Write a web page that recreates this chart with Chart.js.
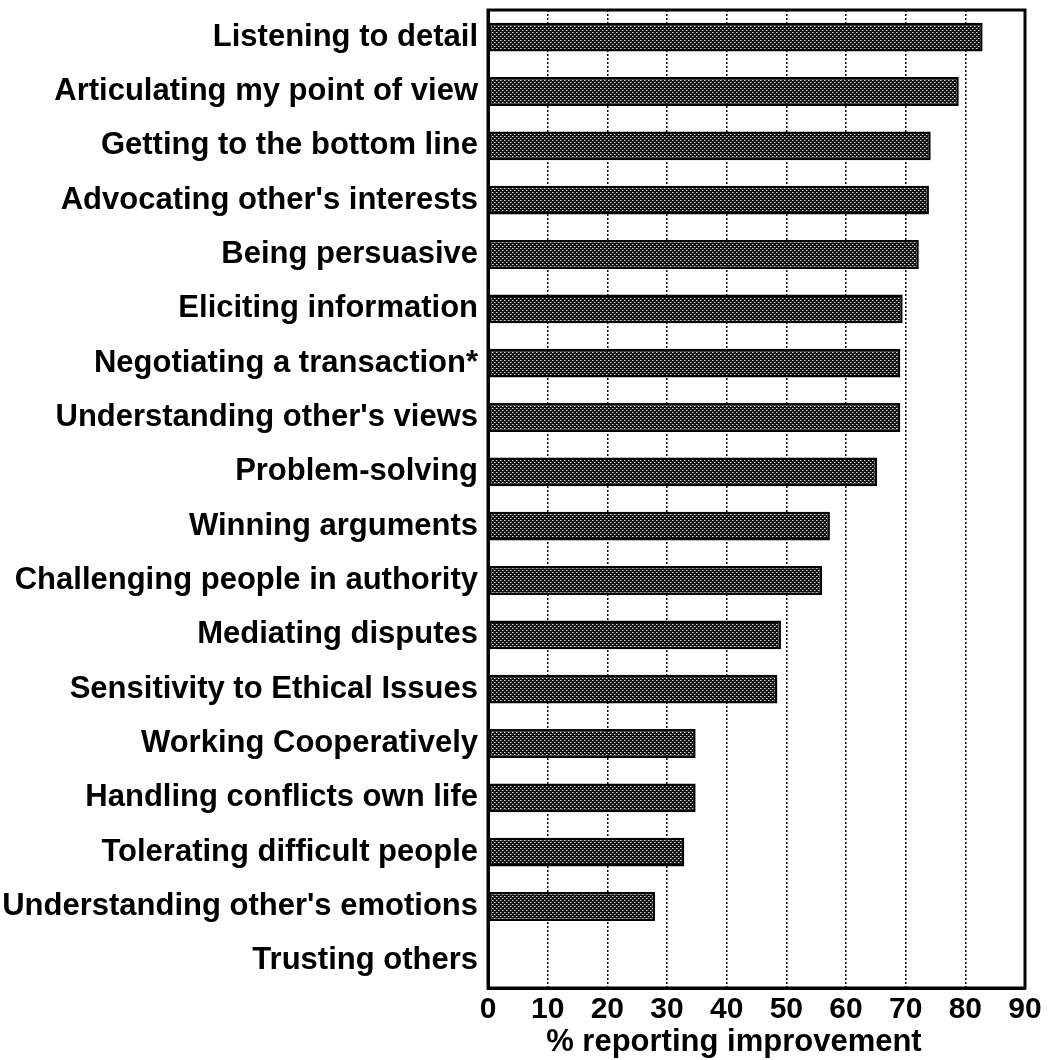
<!DOCTYPE html>
<html>
<head>
<meta charset="utf-8">
<script src="https://cdn.jsdelivr.net/npm/chart.js@4/dist/chart.umd.min.js"></script>
<style>
  html, body { margin: 0; padding: 0; background: #fff; }
  #wrap { width: 1057px; height: 1060px; position: relative; }
</style>
</head>
<body>
<div id="wrap"><canvas id="skillsChart"></canvas></div>
<script>
(function () {
  'use strict';

  // Skill categories (top to bottom)
  var SKILLS = [
    'Listening to detail',
    'Articulating my point of view',
    'Getting to the bottom line',
    "Advocating other's interests",
    'Being persuasive',
    'Eliciting information',
    'Negotiating a transaction*',
    "Understanding other's views",
    'Problem-solving',
    'Winning arguments',
    'Challenging people in authority',
    'Mediating disputes',
    'Sensitivity to Ethical Issues',
    'Working Cooperatively',
    'Handling conflicts own life',
    'Tolerating difficult people',
    "Understanding other's emotions",
    'Trusting others'
  ];

  // % reporting improvement
  var IMPROVEMENT = [
    82.9, 78.9, 74.2, 73.9, 72.2, 69.5, 69.1, 69.1, 65.2,
    57.3, 56.0, 49.1, 48.5, 34.8, 34.8, 32.9, 28.0, 0
  ];

  var X_MIN = 0;
  var X_MAX = 90;
  var X_STEP = 10;
  var X_TITLE = '% reporting improvement';

  var FONT = "'Liberation Sans', Arial, Helvetica, sans-serif";

  // Halftone fill like the printed bars
  function makeDotPattern() {
    var tile = document.createElement('canvas');
    tile.width = 4;
    tile.height = 4;
    var t = tile.getContext('2d');
    t.fillStyle = '#111';
    t.fillRect(0, 0, 4, 4);
    t.fillStyle = '#d8d8d8';
    t.fillRect(0, 0, 1, 1);
    t.fillRect(2, 2, 1, 1);
    t.fillStyle = '#777';
    t.fillRect(1, 0, 1, 1);
    t.fillRect(3, 2, 1, 1);
    return t.createPattern(tile, 'repeat');
  }

  // Solid frame round the plot area, plus the axis title
  var framePlugin = {
    id: 'frame',
    afterDraw: function (chart) {
      var a = chart.chartArea;
      var ctx = chart.ctx;
      ctx.save();
      ctx.strokeStyle = '#000';
      ctx.lineWidth = 3;
      ctx.strokeRect(a.left, a.top, a.right - a.left, a.bottom - a.top);

      ctx.fillStyle = '#000';
      ctx.font = 'bold 31px ' + FONT;
      ctx.textAlign = 'center';
      ctx.textBaseline = 'middle';
      ctx.fillText(X_TITLE, a.left + (a.right - a.left) * 0.458, a.bottom + 54);
      ctx.restore();
    }
  };

  var canvas = document.getElementById('skillsChart');
  var ctx = canvas.getContext('2d');

  new Chart(ctx, {
    type: 'bar',
    data: {
      labels: SKILLS,
      datasets: [{
        data: IMPROVEMENT,
        backgroundColor: makeDotPattern(),
        borderColor: '#000',
        borderWidth: 2.5,
        borderSkipped: false,
        barPercentage: 0.53,
        categoryPercentage: 1.0
      }]
    },
    options: {
      indexAxis: 'y',
      responsive: true,
      maintainAspectRatio: false,
      animation: false,
      layout: {
        padding: { top: 10, right: 32, left: 0, bottom: 0 }
      },
      scales: {
        x: {
          min: X_MIN,
          max: X_MAX,
          afterFit: function (scale) { scale.height = 72; },
          ticks: {
            stepSize: X_STEP,
            color: '#000',
            padding: 4,
            maxRotation: 0,
            font: { family: FONT, size: 30, weight: 'bold' }
          },
          grid: {
            color: '#000',
            lineWidth: 1.5,
            drawTicks: false
          },
          border: { display: true, color: '#000', width: 3, dash: [2, 2] }
        },
        y: {
          afterFit: function (scale) {
            scale.width = 488;
            scale.paddingTop = 0;
            scale.paddingBottom = 0;
          },
          ticks: {
            color: '#000',
            padding: 10,
            font: { family: FONT, size: 31, weight: 'bold' }
          },
          grid: { display: false, drawTicks: false },
          border: { display: true, color: '#000', width: 3 }
        }
      },
      plugins: {
        legend: { display: false },
        tooltip: { enabled: false }
      }
    },
    plugins: [framePlugin]
  });
})();
</script>
</body>
</html>
